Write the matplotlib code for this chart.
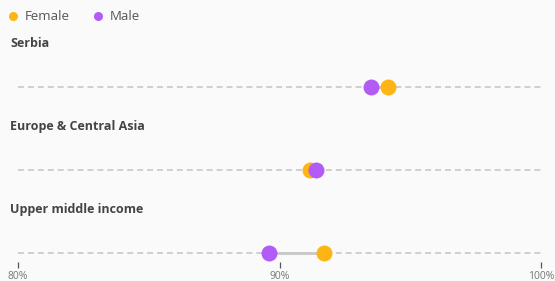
import matplotlib.pyplot as plt
from matplotlib.lines import Line2D

# data ----------------------------------------------------------------------#
regions = ['Serbia', 'Europe & Central Asia', 'Upper middle income']
female = [94.15, 91.15, 91.7]
male = [93.5, 91.4, 89.6]
tick_vals = [80, 90, 100]
tick_labels = ['80%', '90%', '100%']

FEMALE_C = '#FDB515'
MALE_C = '#B35CF5'
BG = '#FAFAFA'

plt.rcParams['font.family'] = ['Open Sans', 'DejaVu Sans']

fig = plt.figure(figsize=(5.55, 2.81), dpi=100, facecolor=BG)
ax = fig.add_axes([0, 19 / 281, 1, 262 / 281], facecolor=BG)

px = 26.15  # pixels per percent
ax.set_xlim(80 - 18 / px, 80 + 537 / px)
ax.set_ylim((262 - 87) / 83, -87 / 83)

for i, name in enumerate(regions):
    ax.plot([80, 100], [i, i], ls=(0, (3.3, 2.2)), color='#cccccc', lw=1.3, zorder=1)
    ax.plot([male[i], female[i]], [i, i], color='#c8c8c8', lw=2, zorder=2)
    ax.plot(female[i], i, 'o', color=FEMALE_C, ms=11.5, mec='none', zorder=3)
    ax.plot(male[i], i, 'o', color=MALE_C, ms=11.5, mec='none', zorder=4)
    ax.text(80 - 8 / px, i - 0.53, name, fontsize=9, fontweight='bold',
            color='#444444', va='center', ha='left')

ax.set_xticks(tick_vals)
ax.set_xticklabels(tick_labels)
ax.tick_params(axis='x', direction='out', length=4.5, width=0.9, color='#555555',
               labelsize=7.5, labelcolor='#777777', pad=2)
ax.set_yticks([])
for s in ax.spines.values():
    s.set_visible(False)

handles = [Line2D([], [], marker='o', ls='none', color=FEMALE_C, ms=6.5, mec='none', label='Female'),
           Line2D([], [], marker='o', ls='none', color=MALE_C, ms=6.5, mec='none', label='Male')]
fig.legend(handles=handles, loc='upper left', bbox_to_anchor=(-0.011, 1.005), ncol=2,
           frameon=False, fontsize=9.5, labelcolor='#555555', handletextpad=0.35,
           columnspacing=1.55, handlelength=1.1)

fig.savefig('out.png', dpi=100, facecolor=BG)
